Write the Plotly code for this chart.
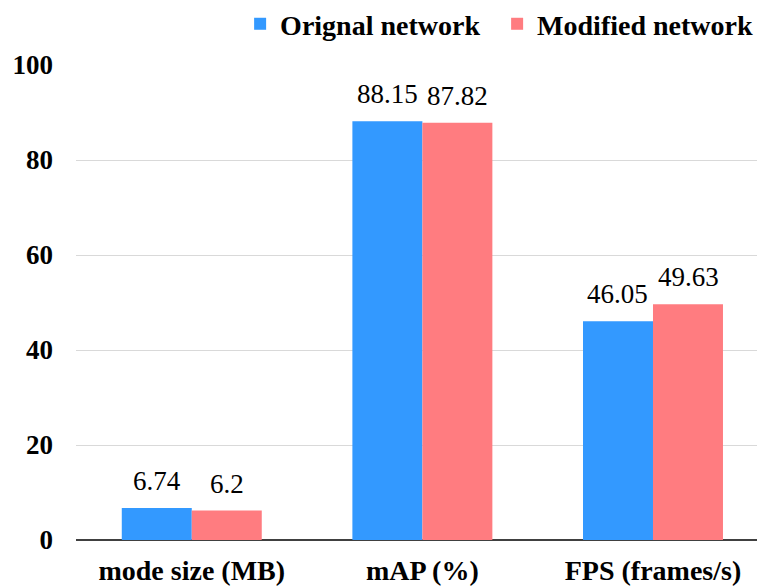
import plotly.graph_objects as go

categories = ["mode size (MB)", "mAP (%)", "FPS (frames/s)"]
original = [6.74, 88.15, 46.05]
modified = [6.2, 87.82, 49.63]
series_names = ["Orignal network", "Modified network"]
y_ticks = [0, 20, 40, 60, 80, 100]

BLUE = "#3399FF"
PINK = "#FF7C80"
SERIF = "Times New Roman"

fig = go.Figure()
fig.add_trace(go.Bar(x=[0, 1, 2], y=original, name=series_names[0],
                     marker=dict(color=BLUE, line=dict(width=0))))
fig.add_trace(go.Bar(x=[0, 1, 2], y=modified, name=series_names[1],
                     marker=dict(color=PINK, line=dict(width=0))))

# value labels above each bar, offset within its group
for vals, off in ((original, -0.152), (modified, 0.152)):
    for i, v in enumerate(vals):
        fig.add_annotation(x=i + off, y=v, xref="x", yref="y",
                           text=f"{v:g}", showarrow=False,
                           yanchor="bottom", yshift=10,
                           font=dict(family=SERIF, size=27, color="black"))

bold = dict(family=SERIF, size=27, color="black", weight="bold")
bold_big = dict(family=SERIF, size=28, color="black", weight="bold")

fig.update_layout(
    width=757, height=587,
    margin=dict(l=76, r=0, t=65, b=47, autoexpand=False),
    paper_bgcolor="white", plot_bgcolor="white",
    barmode="group", bargap=0.393, bargroupgap=0,
    font=dict(family=SERIF, color="black"),
    legend=dict(orientation="h", x=0.241, xanchor="left",
                yref="container", y=0.959, yanchor="middle",
                font=bold_big, itemwidth=30, entrywidth=212, entrywidthmode="pixels",
                traceorder="normal", bgcolor="rgba(0,0,0,0)"),
    xaxis=dict(type="linear", range=[-0.502, 2.451], automargin=False,
               tickmode="array", tickvals=[0, 1, 2], ticktext=categories,
               showgrid=False, zeroline=False, showline=False,
               ticks="", ticklabelstandoff=11, tickfont=bold_big),
    yaxis=dict(range=[0, 100], tickmode="array", tickvals=y_ticks, automargin=False,
               showgrid=True, gridcolor="#D9D9D9", gridwidth=1,
               zeroline=True, zerolinecolor="#404040", zerolinewidth=1.5,
               showline=False, ticks="", ticklabelstandoff=22, tickfont=bold),
)

fig.write_html("out.html")
